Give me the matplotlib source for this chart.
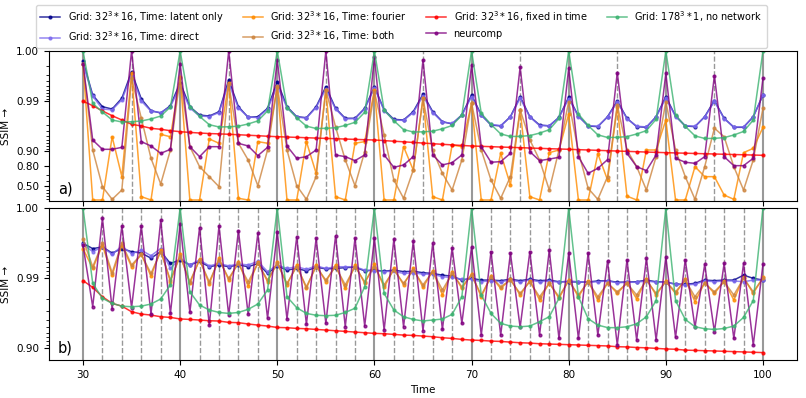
"""
SSIM over time for the different time encodings (two keyframe spacings).
"""

import numpy as np
import matplotlib
matplotlib.use("Agg")
import matplotlib.pyplot as plt
from matplotlib.ticker import FixedLocator, FixedFormatter, NullFormatter

time = np.arange(30, 101)

# ---------------- panel a) keyframes every 5 steps ----------------
latent_a = [0.9984, 0.9924, 0.9870, 0.9855, 0.9912, 0.9974, 0.9909, 0.9844, 0.9826, 0.9876,
            0.9957, 0.9870, 0.9809, 0.9800, 0.9836, 0.9962, 0.9870, 0.9788, 0.9794, 0.9860,
            0.9959, 0.9870, 0.9794, 0.9784, 0.9870, 0.9948, 0.9860, 0.9778, 0.9778, 0.9860,
            0.9948, 0.9849, 0.9767, 0.9760, 0.9837, 0.9927, 0.9837, 0.9741, 0.9712, 0.9810,
            0.9924, 0.9810, 0.9698, 0.9684, 0.9794, 0.9918, 0.9794, 0.9698, 0.9684, 0.9788,
            0.9916, 0.9800, 0.9684, 0.9674, 0.9794, 0.9900, 0.9778, 0.9674, 0.9664, 0.9794,
            0.9918, 0.9800, 0.9684, 0.9674, 0.9794, 0.9902, 0.9778, 0.9664, 0.9664, 0.9794,
            0.9924]
direct_a = [0.9982, 0.9920, 0.9855, 0.9850, 0.9905, 0.9970, 0.9900, 0.9840, 0.9830, 0.9870,
            0.9950, 0.9862, 0.9800, 0.9795, 0.9830, 0.9955, 0.9862, 0.9790, 0.9785, 0.9855,
            0.9950, 0.9865, 0.9790, 0.9780, 0.9865, 0.9942, 0.9855, 0.9772, 0.9775, 0.9855,
            0.9945, 0.9845, 0.9760, 0.9755, 0.9830, 0.9920, 0.9830, 0.9735, 0.9720, 0.9805,
            0.9918, 0.9805, 0.9705, 0.9690, 0.9790, 0.9912, 0.9790, 0.9690, 0.9690, 0.9785,
            0.9910, 0.9795, 0.9690, 0.9680, 0.9790, 0.9895, 0.9775, 0.9680, 0.9670, 0.9790,
            0.9912, 0.9795, 0.9690, 0.9680, 0.9790, 0.9898, 0.9775, 0.9670, 0.9670, 0.9790,
            0.9925]
fourier_a = [0.9982, 0.045, 0.045, 0.948, 0.674, 0.9972, 0.181, 0.045, 0.9536, 0.948,
             0.9967, 0.045, 0.045, 0.9425, 0.930, 0.9956, 0.116, 0.045, 0.935, 0.930,
             0.9948, 0.045, 0.045, 0.935, 0.720, 0.9940, 0.181, 0.045, 0.930, 0.935,
             0.9940, 0.045, 0.045, 0.918, 0.760, 0.9912, 0.181, 0.045, 0.924, 0.918,
             0.9889, 0.045, 0.045, 0.889, 0.521, 0.9850, 0.181, 0.045, 0.892, 0.9045,
             0.9818, 0.045, 0.045, 0.886, 0.620, 0.9870, 0.200, 0.045, 0.9045, 0.9045,
             0.9760, 0.045, 0.045, 0.794, 0.674, 0.674, 0.240, 0.074, 0.892, 0.9115,
             0.9664]
both_a = [0.9982, 0.9045, 0.483, 0.074, 0.397, 0.9965, 0.978, 0.860, 0.543, 0.9045,
          0.9966, 0.918, 0.794, 0.674, 0.483, 0.9955, 0.930, 0.849, 0.506, 0.9045,
          0.9950, 0.9045, 0.506, 0.074, 0.674, 0.9940, 0.967, 0.849, 0.506, 0.897,
          0.9935, 0.952, 0.620, 0.116, 0.760, 0.9910, 0.9045, 0.720, 0.397, 0.849,
          0.9890, 0.9045, 0.620, 0.116, 0.674, 0.9850, 0.940, 0.849, 0.397, 0.9045,
          0.9897, 0.897, 0.442, 0.074, 0.674, 0.9880, 0.9045, 0.794, 0.397, 0.870,
          0.9897, 0.9045, 0.674, 0.074, 0.794, 0.9650, 0.948, 0.794, 0.397, 0.849,
          0.9860]
fixed_a = [0.9899, 0.9876, 0.9842, 0.9803, 0.9760, 0.9708, 0.9684, 0.9648, 0.9632, 0.9607,
           0.9589, 0.9575, 0.9563, 0.9552, 0.9545, 0.9537, 0.9527, 0.9516, 0.9505, 0.9493,
           0.9482, 0.9474, 0.9466, 0.9457, 0.9448, 0.9440, 0.9432, 0.9423, 0.9414, 0.9405,
           0.9397, 0.9380, 0.9362, 0.9345, 0.9325, 0.9306, 0.9285, 0.9265, 0.9245, 0.9225,
           0.9206, 0.9193, 0.9180, 0.9167, 0.9154, 0.9141, 0.9128, 0.9114, 0.9101, 0.9088,
           0.9075, 0.9060, 0.9045, 0.9030, 0.9013, 0.8998, 0.8982, 0.8966, 0.8950, 0.8935,
           0.8919, 0.8906, 0.8893, 0.8879, 0.8865, 0.8851, 0.8837, 0.8823, 0.8809, 0.8795,
           0.8780]
neurcomp_a = [0.9982, 0.9397, 0.9074, 0.9074, 0.9155, 0.9990, 0.9350, 0.9206, 0.8886, 0.9074,
              0.9982, 0.9180, 0.8702, 0.9180, 0.9180, 0.9990, 0.9297, 0.9206, 0.8761, 0.9155,
              0.9985, 0.9206, 0.8600, 0.8702, 0.9045, 0.9990, 0.8798, 0.8702, 0.8440, 0.8798,
              0.9987, 0.8800, 0.7880, 0.8095, 0.8702, 0.9985, 0.8800, 0.8100, 0.8290, 0.8800,
              0.9981, 0.9180, 0.8320, 0.8367, 0.8886, 0.9979, 0.8970, 0.8440, 0.8550, 0.8660,
              0.9978, 0.8700, 0.7200, 0.7780, 0.8510, 0.9973, 0.8886, 0.7940, 0.7530, 0.8800,
              0.9972, 0.8600, 0.8320, 0.8235, 0.8700, 0.9969, 0.8700, 0.8035, 0.8035, 0.8600,
              0.9965]
nonet_a = [0.9990, 0.9888, 0.9834, 0.9760, 0.9737, 0.9740, 0.9749, 0.9771, 0.9800, 0.9868,
           0.9990, 0.9871, 0.9797, 0.9702, 0.9669, 0.9672, 0.9681, 0.9712, 0.9750, 0.9842,
           0.9990, 0.9864, 0.9784, 0.9681, 0.9645, 0.9648, 0.9658, 0.9692, 0.9733, 0.9832,
           0.9990, 0.9848, 0.9752, 0.9627, 0.9583, 0.9586, 0.9598, 0.9640, 0.9691, 0.9809,
           0.9990, 0.9823, 0.9705, 0.9545, 0.9487, 0.9490, 0.9508, 0.9561, 0.9625, 0.9776,
           0.9990, 0.9817, 0.9692, 0.9524, 0.9463, 0.9466, 0.9485, 0.9543, 0.9609, 0.9768,
           0.9990, 0.9810, 0.9678, 0.9501, 0.9438, 0.9441, 0.9460, 0.9521, 0.9593, 0.9759,
           0.9990]

# ---------------- panel b) keyframes every 2 steps ----------------
latent_b = [0.9968, 0.9962, 0.9964, 0.9956, 0.9962, 0.9958, 0.9956, 0.9948, 0.9958, 0.9938,
            0.9945, 0.9935, 0.9942, 0.9931, 0.9935, 0.9931, 0.9935, 0.9931, 0.9938, 0.9914,
            0.9933, 0.9923, 0.9927, 0.9921, 0.9930, 0.9926, 0.9927, 0.9929, 0.9930, 0.9921,
            0.9923, 0.9920, 0.9923, 0.9919, 0.9920, 0.9916, 0.9914, 0.9909, 0.9906, 0.9893,
            0.9899, 0.9893, 0.9893, 0.9891, 0.9896, 0.9891, 0.9896, 0.9891, 0.9893, 0.9887,
            0.9887, 0.9886, 0.9886, 0.9890, 0.9891, 0.9885, 0.9886, 0.9887, 0.9893, 0.9887,
            0.9886, 0.9878, 0.9877, 0.9881, 0.9893, 0.9891, 0.9893, 0.9893, 0.9909, 0.9899,
            0.9893]
direct_b = [0.9967, 0.9958, 0.9964, 0.9954, 0.9965, 0.9955, 0.9960, 0.9952, 0.9962, 0.9927,
            0.9948, 0.9935, 0.9945, 0.9933, 0.9938, 0.9933, 0.9937, 0.9935, 0.9942, 0.9919,
            0.9935, 0.9927, 0.9931, 0.9925, 0.9933, 0.9927, 0.9931, 0.9931, 0.9931, 0.9923,
            0.9921, 0.9919, 0.9920, 0.9914, 0.9916, 0.9912, 0.9912, 0.9904, 0.9902, 0.9896,
            0.9896, 0.9887, 0.9891, 0.9887, 0.9893, 0.9887, 0.9893, 0.9887, 0.9890, 0.9885,
            0.9890, 0.9887, 0.9885, 0.9887, 0.9890, 0.9883, 0.9885, 0.9885, 0.9890, 0.9885,
            0.9885, 0.9877, 0.9875, 0.9877, 0.9890, 0.9887, 0.9890, 0.9890, 0.9887, 0.9893,
            0.9893]
fourier_b = [0.9962, 0.9927, 0.9966, 0.9909, 0.9966, 0.9931, 0.9954, 0.9906, 0.9960, 0.9887,
             0.9954, 0.9881, 0.9946, 0.9878, 0.9948, 0.9893, 0.9941, 0.9870, 0.9940, 0.9887,
             0.9940, 0.9875, 0.9935, 0.9859, 0.9935, 0.9887, 0.9935, 0.9859, 0.9935, 0.9881,
             0.9937, 0.9864, 0.9927, 0.9875, 0.9927, 0.9864, 0.9921, 0.9825, 0.9919, 0.9859,
             0.9912, 0.9815, 0.9906, 0.9859, 0.9896, 0.9825, 0.9891, 0.9794, 0.9883, 0.9805,
             0.9893, 0.9815, 0.9889, 0.9794, 0.9883, 0.9834, 0.9883, 0.9801, 0.9896, 0.9825,
             0.9889, 0.9834, 0.9896, 0.9782, 0.9883, 0.9834, 0.9889, 0.9794, 0.9902, 0.9834,
             0.9902]
both_b = [0.9972, 0.9931, 0.9968, 0.9916, 0.9968, 0.9935, 0.9954, 0.9914, 0.9958, 0.9893,
          0.9951, 0.9887, 0.9945, 0.9887, 0.9945, 0.9899, 0.9938, 0.9887, 0.9938, 0.9893,
          0.9938, 0.9881, 0.9931, 0.9867, 0.9931, 0.9893, 0.9931, 0.9875, 0.9931, 0.9887,
          0.9931, 0.9875, 0.9923, 0.9881, 0.9923, 0.9875, 0.9919, 0.9852, 0.9914, 0.9867,
          0.9909, 0.9825, 0.9904, 0.9867, 0.9893, 0.9834, 0.9887, 0.9815, 0.9881, 0.9815,
          0.9891, 0.9825, 0.9887, 0.9815, 0.9881, 0.9843, 0.9881, 0.9825, 0.9893, 0.9834,
          0.9887, 0.9843, 0.9893, 0.9815, 0.9881, 0.9843, 0.9887, 0.9825, 0.9899, 0.9843,
          0.9899]
fixed_b = [0.9891, 0.9864, 0.9815, 0.9770, 0.9748, 0.9697, 0.9673, 0.9662, 0.9643, 0.9635,
           0.9616, 0.9610, 0.9602, 0.9593, 0.9589, 0.9570, 0.9566, 0.9547, 0.9530, 0.9515,
           0.9492, 0.9488, 0.9476, 0.9470, 0.9458, 0.9447, 0.9434, 0.9422, 0.9409, 0.9396,
           0.9383, 0.9376, 0.9362, 0.9347, 0.9340, 0.9326, 0.9311, 0.9288, 0.9272, 0.9248,
           0.9231, 0.9222, 0.9205, 0.9196, 0.9178, 0.9160, 0.9151, 0.9133, 0.9124, 0.9115,
           0.9105, 0.9096, 0.9086, 0.9077, 0.9067, 0.9043, 0.9037, 0.9018, 0.9008, 0.8990,
           0.8970, 0.8960, 0.8930, 0.8920, 0.8910, 0.8900, 0.8888, 0.8876, 0.8864, 0.8852,
           0.8840]
neurcomp_b = [0.9966, 0.9743, 0.9986, 0.9723, 0.9982, 0.9735, 0.9982, 0.9673, 0.9985, 0.9680,
              0.9983, 0.9690, 0.9981, 0.9530, 0.9982, 0.9662, 0.9979, 0.9673, 0.9977, 0.9625,
              0.9978, 0.9616, 0.9974, 0.9542, 0.9973, 0.9556, 0.9975, 0.9504, 0.9973, 0.9515,
              0.9973, 0.9447, 0.9972, 0.9504, 0.9970, 0.9434, 0.9968, 0.9458, 0.9963, 0.9556,
              0.9964, 0.9347, 0.9958, 0.9347, 0.9956, 0.9494, 0.9958, 0.9347, 0.9960, 0.9272,
              0.9956, 0.9272, 0.9956, 0.9347, 0.9943, 0.9096, 0.9945, 0.9231, 0.9948, 0.9231,
              0.9950, 0.9297, 0.9945, 0.9494, 0.9936, 0.9416, 0.9938, 0.9272, 0.9938, 0.9096,
              0.9936]
nonet_b = [0.9990, 0.9881, 0.9805, 0.9770, 0.9748, 0.9743, 0.9748, 0.9765, 0.9801, 0.9875,
           0.9990, 0.9843, 0.9757, 0.9714, 0.9690, 0.9680, 0.9690, 0.9720, 0.9765, 0.9852,
           0.9990, 0.9815, 0.9735, 0.9680, 0.9660, 0.9655, 0.9660, 0.9690, 0.9730, 0.9867,
           0.9990, 0.9834, 0.9714, 0.9643, 0.9610, 0.9590, 0.9602, 0.9615, 0.9670, 0.9815,
           0.9990, 0.9825, 0.9680, 0.9556, 0.9515, 0.9504, 0.9515, 0.9580, 0.9643, 0.9805,
           0.9990, 0.9815, 0.9620, 0.9530, 0.9490, 0.9488, 0.9504, 0.9550, 0.9643, 0.9790,
           0.9990, 0.9790, 0.9610, 0.9504, 0.9470, 0.9458, 0.9475, 0.9515, 0.9635, 0.9790,
           0.9990]

labels = [r"Grid: $32^3*16$, Time: latent only",
          r"Grid: $32^3*16$, Time: direct",
          r"Grid: $32^3*16$, Time: fourier",
          r"Grid: $32^3*16$, Time: both",
          r"Grid: $32^3*16$, fixed in time",
          "neurcomp",
          r"Grid: $178^3*1$, no network"]
colors = ["darkblue", "mediumslateblue", "darkorange", "peru", "red", "purple", "mediumseagreen"]

series_a = [latent_a, direct_a, fourier_a, both_a, fixed_a, neurcomp_a, nonet_a]
series_b = [latent_b, direct_b, fourier_b, both_b, fixed_b, neurcomp_b, nonet_b]

full_frames = list(range(30, 101, 10))
dashed_a = list(range(35, 100, 10))
dashed_b = [t for t in range(32, 100, 2) if t % 10 != 0]


def fwd(s):
    return -np.log10(np.clip(1.0 - np.asarray(s, dtype=float), 1e-9, None))


def inv(u):
    return 1.0 - 10.0 ** (-np.asarray(u, dtype=float))


def minor_positions(lo, hi, majors):
    pos = []
    for n in (-3, -2, -1):
        for k in range(2, 10):
            s = 1 - k * 10.0 ** n
            if lo < s < hi and not any(abs(s - m) < 1e-9 for m in majors):
                pos.append(s)
    return pos


fig = plt.figure(figsize=(8.06, 3.98), dpi=100)
ax_a = fig.add_axes([0.0608, 0.495, 0.928, 0.3769])
ax_b = fig.add_axes([0.0608, 0.0955, 0.928, 0.3819], sharex=ax_a)

panels = [
    (ax_a, series_a, dashed_a, (0.0, 0.999), [0.5, 0.8, 0.9, 0.99, 0.999],
     ["0.50", "0.80", "0.90", "0.99", "1.00"], "a)"),
    (ax_b, series_b, dashed_b, (0.852, 0.999), [0.9, 0.99, 0.999],
     ["0.90", "0.99", "1.00"], "b)"),
]

handles = []
for ax, series, dashed, ylim, yticks, yticklabels, tag in panels:
    ax.set_yscale("function", functions=(fwd, inv))
    for t in full_frames:
        ax.axvline(t, color="gray", lw=1.5, alpha=0.8, zorder=1)
    for t in dashed:
        ax.axvline(t, color="gray", lw=1.0, ls="--", alpha=0.8, zorder=1)
    lines = []
    for values, label, color in zip(series, labels, colors):
        ln, = ax.plot(time, values, color=color, label=label, lw=1.1, alpha=0.8,
                      marker="o", ms=2, zorder=2)
        lines.append(ln)
    handles = lines
    ax.set_ylim(*ylim)
    ax.yaxis.set_major_locator(FixedLocator(yticks))
    ax.yaxis.set_major_formatter(FixedFormatter(yticklabels))
    ax.yaxis.set_minor_locator(FixedLocator(minor_positions(ylim[0], ylim[1], yticks)))
    ax.yaxis.set_minor_formatter(NullFormatter())
    ax.tick_params(labelsize=7.5)
    ax.set_ylabel("SSIM →", fontsize=7.5)
    ax.text(0.012, 0.05, tag, transform=ax.transAxes, fontsize=10.5)

ax_a.set_xlim(26.5, 103.5)
ax_a.set_xticks(full_frames)
ax_a.tick_params(axis="x", labelbottom=False)
ax_b.set_xlabel("Time", fontsize=7.5)
ax_a.yaxis.set_label_coords(-0.051, 0.5)
ax_b.yaxis.set_label_coords(-0.051, 0.5)

fig.legend(handles=handles, labels=labels, ncol=4, loc="upper center",
           bbox_to_anchor=(0.498, 1.0), fontsize=7.05)

fig.savefig("out.png", dpi=100)
